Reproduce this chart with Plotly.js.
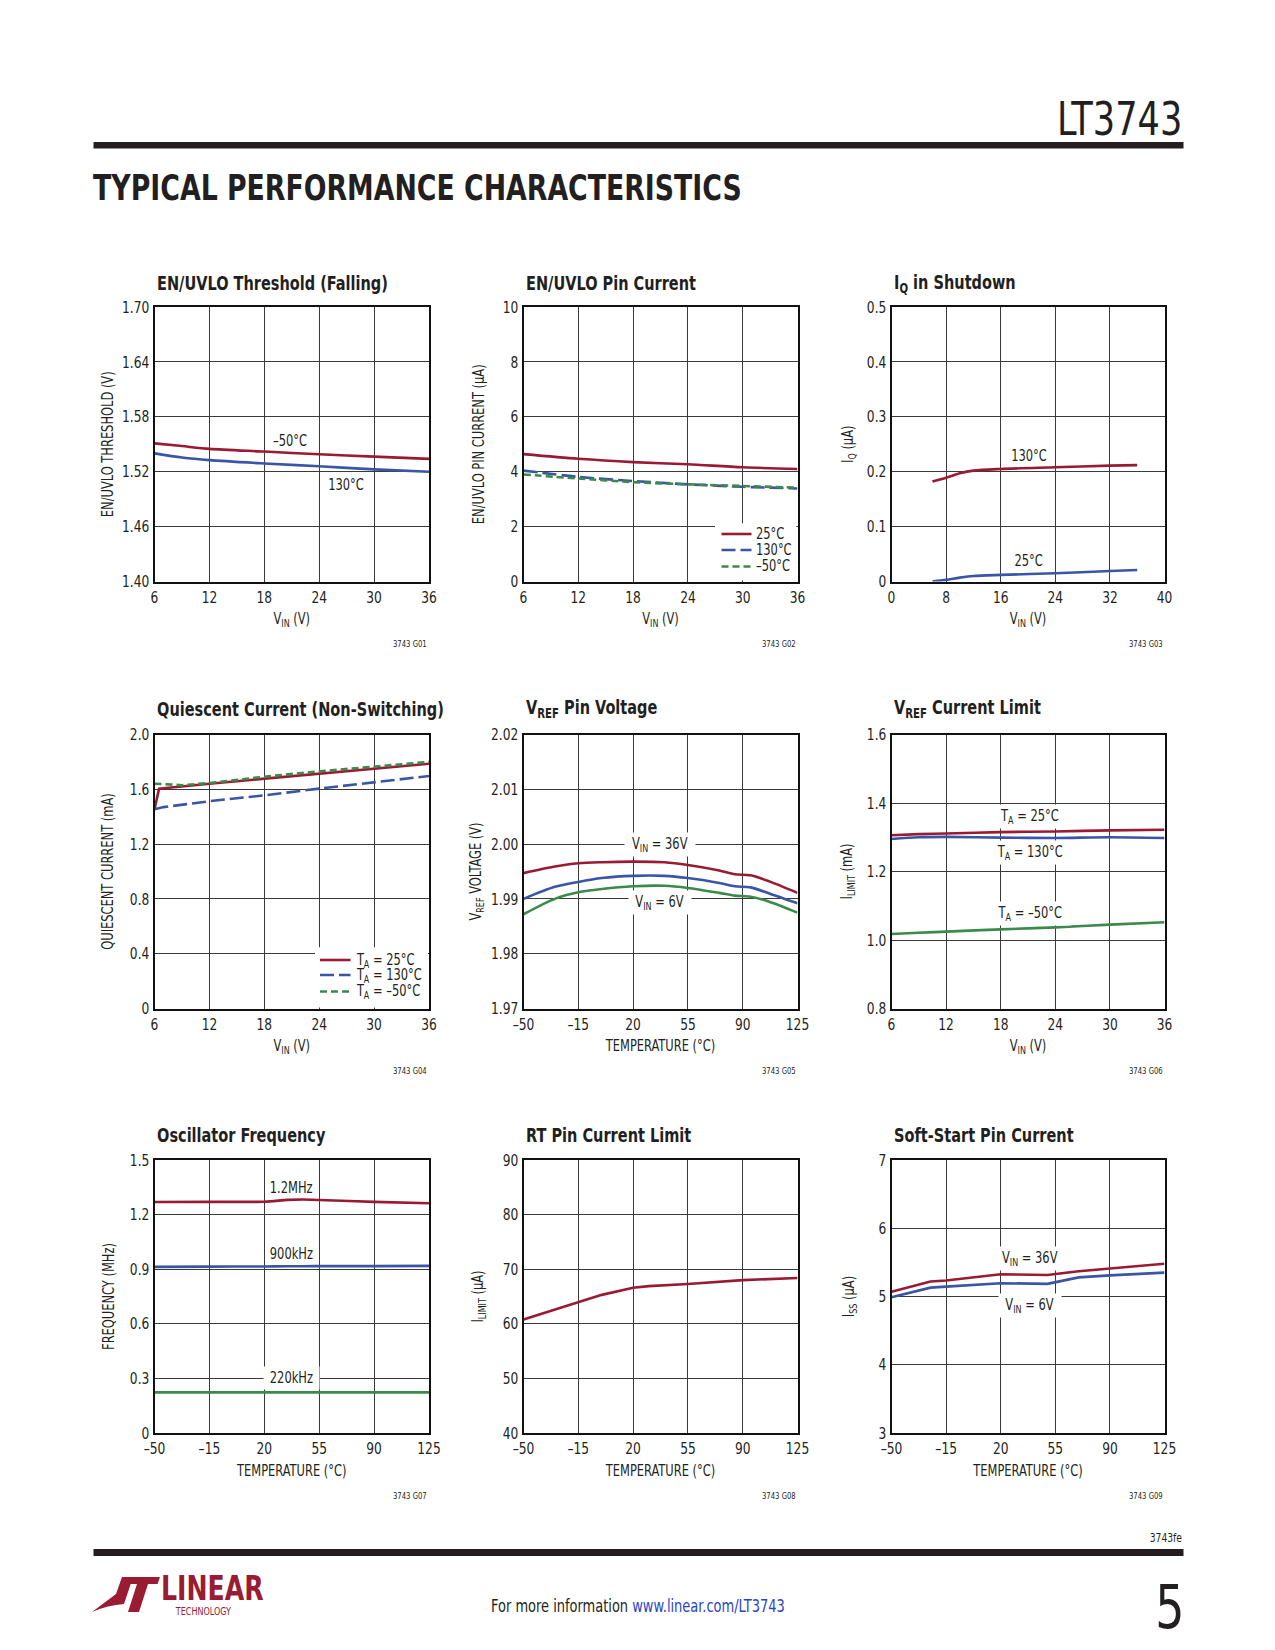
<!DOCTYPE html>
<html><head><meta charset="utf-8">
<script src="https://cdn.plot.ly/plotly-3.0.1.min.js"></script>
<style>html,body{margin:0;padding:0;background:#fff}#page{width:1275px;height:1650px}</style>
</head><body><div id="page"></div>
<script>
// ---------------- DATA ----------------
// tick values / labels
const vinTicks = [6, 12, 18, 24, 30, 36];
const vinLabels = ['6', '12', '18', '24', '30', '36'];
const iqVinTicks = [0, 8, 16, 24, 32, 40];
const iqVinLabels = ['0', '8', '16', '24', '32', '40'];
const tempTicks = [-50, -15, 20, 55, 90, 125];
const tempLabels = ['–50', '–15', '20', '55', '90', '125'];

const g1_yTicks = [1.40, 1.46, 1.52, 1.58, 1.64, 1.70];
const g1_yLabels = ['1.40', '1.46', '1.52', '1.58', '1.64', '1.70'];
const g2_yTicks = [0, 2, 4, 6, 8, 10];
const g2_yLabels = ['0', '2', '4', '6', '8', '10'];
const g3_yTicks = [0, 0.1, 0.2, 0.3, 0.4, 0.5];
const g3_yLabels = ['0', '0.1', '0.2', '0.3', '0.4', '0.5'];
const g4_yTicks = [0, 0.4, 0.8, 1.2, 1.6, 2.0];
const g4_yLabels = ['0', '0.4', '0.8', '1.2', '1.6', '2.0'];
const g5_yTicks = [1.97, 1.98, 1.99, 2.00, 2.01, 2.02];
const g5_yLabels = ['1.97', '1.98', '1.99', '2.00', '2.01', '2.02'];
const g6_yTicks = [0.8, 1.0, 1.2, 1.4, 1.6];
const g6_yLabels = ['0.8', '1.0', '1.2', '1.4', '1.6'];
const g7_yTicks = [0, 0.3, 0.6, 0.9, 1.2, 1.5];
const g7_yLabels = ['0', '0.3', '0.6', '0.9', '1.2', '1.5'];
const g8_yTicks = [40, 50, 60, 70, 80, 90];
const g8_yLabels = ['40', '50', '60', '70', '80', '90'];
const g9_yTicks = [3, 4, 5, 6, 7];
const g9_yLabels = ['3', '4', '5', '6', '7'];

// G01 EN/UVLO Threshold (Falling)
const g1_vin = [6, 9, 12, 18, 24, 30, 36];
const g1_m50 = [1.551, 1.548, 1.545, 1.542, 1.539, 1.5365, 1.534];
const g1_130 = [1.540, 1.5355, 1.5326, 1.529, 1.526, 1.5225, 1.520];

// G02 EN/UVLO Pin Current
const g2_vin = [6, 12, 18, 24, 30, 36];
const g2_25 = [4.64, 4.47, 4.35, 4.27, 4.16, 4.10];
const g2_130 = [4.04, 3.81, 3.66, 3.54, 3.45, 3.39];
const g2_m50 = [3.90, 3.75, 3.62, 3.54, 3.48, 3.42];

// G03 IQ in Shutdown
const g3_vin = [6, 8, 10, 12, 16, 24, 32, 36];
const g3_130 = [0.182, 0.189, 0.197, 0.202, 0.205, 0.208, 0.211, 0.212];
const g3_25 = [0.000, 0.003, 0.007, 0.010, 0.012, 0.015, 0.019, 0.021];

// G04 Quiescent Current (Non-Switching)
const g4_vin25 = [6, 6.5, 12, 18, 24, 30, 36];
const g4_25 = [1.454, 1.605, 1.641, 1.678, 1.714, 1.750, 1.787];
const g4_vin130 = [6, 7, 12, 18, 24, 30, 36];
const g4_130 = [1.454, 1.470, 1.513, 1.556, 1.605, 1.651, 1.697];
const g4_vinm50 = [6, 9, 12, 18, 24, 30, 36];
const g4_m50 = [1.641, 1.630, 1.646, 1.692, 1.731, 1.767, 1.800];

// G05 VREF Pin Voltage
const g5_temp = [-50, -30, -15, 0, 20, 40, 55, 75, 85, 95, 107, 125];
const g5_36 = [1.9947, 1.9959, 1.9965, 1.9967, 1.9968, 1.9967, 1.9962, 1.9952, 1.9945, 1.9943, 1.9932, 1.9911];
const g5_mid = [1.9900, 1.9922, 1.9931, 1.9938, 1.9942, 1.9942, 1.9938, 1.9929, 1.9923, 1.9921, 1.9910, 1.9892];
const g5_6 = [1.9872, 1.9900, 1.9912, 1.9918, 1.9923, 1.9924, 1.9920, 1.9911, 1.9906, 1.9904, 1.9895, 1.9875];

// G06 VREF Current Limit
const g6_vin = [6, 9, 12, 18, 24, 30, 36];
const g6_25 = [1.306, 1.309, 1.311, 1.315, 1.317, 1.320, 1.322];
const g6_130 = [1.295, 1.300, 1.301, 1.299, 1.298, 1.300, 1.298];
const g6_m50 = [1.0175, 1.021, 1.0245, 1.031, 1.037, 1.045, 1.052];

// G07 Oscillator Frequency
const g7_temp = [-50, -15, 20, 35, 45, 55, 90, 125];
const g7_1200k = [1.269, 1.270, 1.271, 1.281, 1.283, 1.280, 1.270, 1.262];
const g7_900k = [0.913, 0.914, 0.915, 0.916, 0.916, 0.917, 0.917, 0.918];
const g7_220k = [0.223, 0.223, 0.223, 0.223, 0.223, 0.223, 0.223, 0.223];

// G08 RT Pin Current Limit
const g8_temp = [-50, -15, 0, 20, 30, 55, 90, 125];
const g8_ilim = [60.8, 64.0, 65.3, 66.6, 66.9, 67.3, 68.0, 68.4];

// G09 Soft-Start Pin Current
const g9_temp = [-50, -25, -15, 20, 50, 70, 90, 125];
const g9_36 = [5.07, 5.22, 5.235, 5.325, 5.315, 5.37, 5.41, 5.48];
const g9_6 = [4.99, 5.13, 5.145, 5.195, 5.185, 5.28, 5.31, 5.35];

// legend entries
const g2_legend = ['25°C', '130°C', '–50°C'];
const g4_legend = ['T<sub>A</sub> = 25°C', 'T<sub>A</sub> = 130°C', 'T<sub>A</sub> = –50°C'];

// ---------------- STYLE / LAYOUT ----------------
const W = 1275, H = 1650;
const FONT = '"Liberation Sans Narrow","DejaVu Sans Condensed","Arial Narrow",Roboto,sans-serif';
const INK = '#231f20';
const RED = '#991b33', BLUE = '#3a55a5', GREEN = '#3b8a4b';
const LOGO = '#9a1c33';
const CONDENSE = 0.85;
const px = x => x / W, py = y => 1 - y / H;

const COLS = [[154.5, 429], [523.5, 797.5], [891.5, 1164.5]];
const ROWS = [[307, 581.5], [734.5, 1008.5], [1160, 1433]];
const TITLE_OFF = [-24, -26, -25.5];

const charts = [
  {title: 'EN/UVLO Threshold (Falling)', xr: [6, 36], xt: vinTicks, xl: vinLabels, yr: [1.40, 1.70], yt: g1_yTicks, yl: g1_yLabels, xtitle: 'V<sub>IN</sub> (V)', ytitle: 'EN/UVLO THRESHOLD (V)', code: '3743 G01', ys: 0},
  {title: 'EN/UVLO Pin Current', xr: [6, 36], xt: vinTicks, xl: vinLabels, yr: [0, 10], yt: g2_yTicks, yl: g2_yLabels, xtitle: 'V<sub>IN</sub> (V)', ytitle: 'EN/UVLO PIN CURRENT (μA)', code: '3743 G02', ys: 12},
  {title: 'I<sub>Q</sub> in Shutdown', xr: [0, 40], xt: iqVinTicks, xl: iqVinLabels, yr: [0, 0.5], yt: g3_yTicks, yl: g3_yLabels, xtitle: 'V<sub>IN</sub> (V)', ytitle: 'I<sub>Q</sub> (μA)', code: '3743 G03', ys: 6},
  {title: 'Quiescent Current (Non-Switching)', xr: [6, 36], xt: vinTicks, xl: vinLabels, yr: [0, 2.0], yt: g4_yTicks, yl: g4_yLabels, xtitle: 'V<sub>IN</sub> (V)', ytitle: 'QUIESCENT CURRENT (mA)', code: '3743 G04', ys: 9},
  {title: 'V<sub>REF</sub> Pin Voltage', xr: [-50, 125], xt: tempTicks, xl: tempLabels, yr: [1.97, 2.02], yt: g5_yTicks, yl: g5_yLabels, xtitle: 'TEMPERATURE (°C)', ytitle: 'V<sub>REF</sub> VOLTAGE (V)', code: '3743 G05', ys: 0},
  {title: 'V<sub>REF</sub> Current Limit', xr: [6, 36], xt: vinTicks, xl: vinLabels, yr: [0.8, 1.6], yt: g6_yTicks, yl: g6_yLabels, xtitle: 'V<sub>IN</sub> (V)', ytitle: 'I<sub>LIMIT</sub> (mA)', code: '3743 G06', ys: 7.5},
  {title: 'Oscillator Frequency', xr: [-50, 125], xt: tempTicks, xl: tempLabels, yr: [0, 1.5], yt: g7_yTicks, yl: g7_yLabels, xtitle: 'TEMPERATURE (°C)', ytitle: 'FREQUENCY (MHz)', code: '3743 G07', ys: 8},
  {title: 'RT Pin Current Limit', xr: [-50, 125], xt: tempTicks, xl: tempLabels, yr: [40, 90], yt: g8_yTicks, yl: g8_yLabels, xtitle: 'TEMPERATURE (°C)', ytitle: 'I<sub>LIMIT</sub> (μA)', code: '3743 G08', ys: 13},
  {title: 'Soft-Start Pin Current', xr: [-50, 125], xt: tempTicks, xl: tempLabels, yr: [3, 7], yt: g9_yTicks, yl: g9_yLabels, xtitle: 'TEMPERATURE (°C)', ytitle: 'I<sub>SS</sub> (μA)', code: '3743 G09', ys: 19}
];

const ax = i => (i === 0 ? '' : String(i + 1));
const layout = {
  width: W, height: H, margin: {l: 0, r: 0, t: 0, b: 0},
  paper_bgcolor: '#fff', plot_bgcolor: '#fff',
  font: {family: FONT, color: INK, size: 14},
  showlegend: false,
  annotations: [], shapes: []
};
const ANN = layout.annotations, SH = layout.shapes;

charts.forEach((c, i) => {
  const col = COLS[i % 3], r = Math.floor(i / 3), row = ROWS[r];
  const axisCommon = {
    showgrid: true, gridcolor: '#3a3a3a', gridwidth: 1,
    showline: true, linecolor: '#111', linewidth: 2, mirror: true,
    ticks: '', zeroline: false, fixedrange: true,
    tickfont: {family: FONT, size: 16, color: INK}
  };
  layout['xaxis' + ax(i)] = Object.assign({}, axisCommon, {
    domain: [px(col[0]), px(col[1])], range: c.xr, tickmode: 'array', tickvals: c.xt, ticktext: c.xl,
    anchor: 'y' + ax(i),
    title: {text: c.xtitle, font: {family: FONT, size: 15, color: INK}, standoff: 8}
  });
  layout['yaxis' + ax(i)] = Object.assign({}, axisCommon, {
    domain: [py(row[1]), py(row[0])], range: c.yr, tickmode: 'array', tickvals: c.yt, ticktext: c.yl,
    anchor: 'x' + ax(i),
    title: {text: c.ytitle, font: {family: FONT, size: 15, color: INK}, standoff: c.ys}
  });
  // chart title
  ANN.push({text: c.title, xref: 'paper', yref: 'paper', x: px(col[0]), y: py(row[0] + TITLE_OFF[r]),
    xanchor: 'left', yanchor: 'middle', showarrow: false, font: {family: FONT, size: 19, color: INK, weight: 'bold'}});
  // figure code
  ANN.push({text: c.code, xref: 'paper', yref: 'paper', x: px(col[1]), y: py(row[1] + 62.5),
    xanchor: 'right', yanchor: 'middle', showarrow: false, font: {family: FONT, size: 9, color: INK}});
});

const traces = [];
function line(i, x, y, color, dash, shape, name) {
  traces.push({
    type: 'scatter', mode: 'lines', x: x, y: y, name: name,
    xaxis: 'x' + ax(i), yaxis: 'y' + ax(i),
    line: {color: color, width: 2.6, dash: dash || 'solid', shape: shape || 'spline', smoothing: 0.8},
    hoverinfo: 'skip'
  });
}
const LDASH = '14px,5px', SDASH = '7px,4px';
// G01
line(0, g1_vin, g1_m50, RED, null, 'spline', '–50°C');
line(0, g1_vin, g1_130, BLUE, null, 'spline', '130°C');
// G02
line(1, g2_vin, g2_25, RED, null, 'spline', g2_legend[0]);
line(1, g2_vin, g2_130, BLUE, LDASH, 'spline', g2_legend[1]);
line(1, g2_vin, g2_m50, GREEN, SDASH, 'spline', g2_legend[2]);
// G03
line(2, g3_vin, g3_130, RED, null, 'spline', '130°C');
line(2, g3_vin, g3_25, BLUE, null, 'spline', '25°C');
// G04
line(3, g4_vin25, g4_25, RED, null, 'linear', g4_legend[0]);
line(3, g4_vin130, g4_130, BLUE, LDASH, 'linear', g4_legend[1]);
line(3, g4_vinm50, g4_m50, GREEN, SDASH, 'linear', g4_legend[2]);
// G05
line(4, g5_temp, g5_36, RED, null, 'spline', 'V<sub>IN</sub> = 36V');
line(4, g5_temp, g5_mid, BLUE, null, 'spline', 'V<sub>IN</sub> (intermediate)');
line(4, g5_temp, g5_6, GREEN, null, 'spline', 'V<sub>IN</sub> = 6V');
// G06
line(5, g6_vin, g6_25, RED, null, 'spline', 'T<sub>A</sub> = 25°C');
line(5, g6_vin, g6_130, BLUE, null, 'spline', 'T<sub>A</sub> = 130°C');
line(5, g6_vin, g6_m50, GREEN, null, 'spline', 'T<sub>A</sub> = –50°C');
// G07
line(6, g7_temp, g7_1200k, RED, null, 'spline', '1.2MHz');
line(6, g7_temp, g7_900k, BLUE, null, 'spline', '900kHz');
line(6, g7_temp, g7_220k, GREEN, null, 'spline', '220kHz');
// G08
line(7, g8_temp, g8_ilim, RED, null, 'linear', 'I<sub>LIMIT</sub>');
// G09
line(8, g9_temp, g9_36, RED, null, 'linear', 'V<sub>IN</sub> = 36V');
line(8, g9_temp, g9_6, BLUE, null, 'linear', 'V<sub>IN</sub> = 6V');

// in-plot labels
function lab(i, text, x, y, opt) {
  ANN.push(Object.assign({text: text, xref: 'x' + ax(i), yref: 'y' + ax(i), x: x, y: y,
    showarrow: false, xanchor: 'center', yanchor: 'middle', font: {family: FONT, size: 15, color: INK}}, opt || {}));
}
const WB = {bgcolor: '#fff', borderpad: 2};
lab(0, '–50°C', 20.8, 1.5536);
lab(0, '130°C', 26.9, 1.5055);
lab(2, '130°C', 20.1, 0.2286);
lab(2, '25°C', 20.1, 0.0373);
lab(4, 'V<sub>IN</sub> = 36V', 37.2, 2.000, WB);
lab(4, 'V<sub>IN</sub> = 6V', 37.2, 1.9893, WB);
lab(5, 'T<sub>A</sub> = 25°C', 21.2, 1.360, WB);
lab(5, 'T<sub>A</sub> = 130°C', 21.2, 1.255, WB);
lab(5, 'T<sub>A</sub> = –50°C', 21.2, 1.076, WB);
lab(6, '1.2MHz', 37.3, 1.346);
lab(6, '900kHz', 37.3, 0.9835);
lab(6, '220kHz', 37.3, 0.300, WB);
lab(8, 'V<sub>IN</sub> = 36V', 38.8, 5.564, WB);
lab(8, 'V<sub>IN</sub> = 6V', 38.8, 4.875, WB);

// legend boxes (drawn as keys inside plots)
function legendBox(box, lineX, textX, ys, labels, styles) {
  SH.push({type: 'rect', xref: 'paper', yref: 'paper', x0: px(box[0]), x1: px(box[1]), y0: py(box[3]), y1: py(box[2]),
    fillcolor: '#fff', line: {width: 0}, layer: 'above'});
  labels.forEach((t, k) => {
    SH.push({type: 'line', xref: 'paper', yref: 'paper', x0: px(lineX[0]), x1: px(lineX[1]), y0: py(ys[k]), y1: py(ys[k]),
      line: {color: styles[k][0], width: 2.6, dash: styles[k][1]}, layer: 'above'});
    ANN.push({text: t, xref: 'paper', yref: 'paper', x: px(textX), y: py(ys[k]), xanchor: 'left', yanchor: 'middle',
      showarrow: false, font: {family: FONT, size: 15, color: INK}});
  });
}
const legStyles = [[RED, 'solid'], [BLUE, LDASH], [GREEN, SDASH]];
legendBox([715, 796.4, 523.3, 580.4], [721.5, 751.5], 754, [534, 550, 566.5], g2_legend, legStyles);
legendBox([315, 428, 947.3, 1007.4], [320, 350.5], 354, [960, 975, 991.5], g4_legend, legStyles);

// page header / footer
function pageText(text, x, y, size, opt) {
  ANN.push(Object.assign({text: text, xref: 'paper', yref: 'paper', x: px(x), y: py(y), showarrow: false,
    xanchor: 'left', yanchor: 'middle', font: {family: FONT, size: size, color: INK}}, opt || {}));
}
pageText('LT3743', 1184, 119, 46, {xanchor: 'right'});
SH.push({type: 'rect', xref: 'paper', yref: 'paper', x0: px(93.5), x1: px(1183.5), y0: py(142), y1: py(148.5), fillcolor: INK, line: {width: 0}});
pageText('TYPICAL PERFORMANCE CHARACTERISTICS', 91, 188, 35, {font: {family: FONT, size: 35, color: INK, weight: 'bold'}});

SH.push({type: 'rect', xref: 'paper', yref: 'paper', x0: px(93.5), x1: px(1183.5), y0: py(1549), y1: py(1556), fillcolor: INK, line: {width: 0}});
pageText('3743fe', 1183.5, 1538, 12, {xanchor: 'right'});
pageText('5', 1186, 1606.5, 60, {xanchor: 'right'});
pageText('For more information <span style="color:#2b44c4">www.linear.com/LT3743</span>', 638, 1606, 17, {xanchor: 'center'});

// logo (shifted down 3px)
const LY = 3;
function P(pts) { return 'M' + pts.map(p => px(p[0]) + ',' + py(p[1] + LY)).join(' L') + ' Z'; }
SH.push({type: 'path', xref: 'paper', yref: 'paper', fillcolor: LOGO, line: {width: 0},
  path: 'M' + px(92) + ',' + py(1609 + LY) + ' Q' + px(108) + ',' + py(1597 + LY) + ' ' + px(116) + ',' + py(1591 + LY) +
        ' L' + px(122) + ',' + py(1574 + LY) + ' L' + px(133) + ',' + py(1574 + LY) + ' L' + px(124) + ',' + py(1601 + LY) +
        ' Q' + px(108) + ',' + py(1602 + LY) + ' ' + px(92) + ',' + py(1609 + LY) + ' Z'});
SH.push({type: 'path', xref: 'paper', yref: 'paper', fillcolor: LOGO, line: {width: 0},
  path: P([[131, 1574], [160, 1574], [157.5, 1581], [148, 1581], [139, 1609], [128, 1609], [137, 1581], [129, 1581]])});
pageText('LINEAR', 159, 1585 + LY, 33, {font: {family: FONT, size: 33, color: LOGO, weight: 'bold'}});
pageText('TECHNOLOGY', 173, 1607.5 + LY, 10.5, {font: {family: FONT, size: 10.5, color: LOGO}});

// narrow every text horizontally around its own anchor (the reference uses a condensed face)
function squeeze(t, pivot, s) {
  const y = parseFloat(t.getAttribute('y')) || 0;
  const old = t.getAttribute('transform') || '';
  t.setAttribute('transform', (old + ' translate(' + pivot + ',' + y + ') scale(' + s + ',1) translate(' + (-pivot) + ',' + (-y) + ')').trim());
}
function condense(gd, s) {
  const done = new Set();
  gd.querySelectorAll('g.annotation').forEach(g => {
    const k = +g.getAttribute('data-index');
    const a = (gd.layout.annotations || [])[k];
    const t = g.querySelector('text');
    if (!t || !a) return;
    done.add(t);
    const bb = t.getBBox();
    let pivot = bb.x + bb.width / 2;
    if (a.xanchor === 'left') pivot = bb.x;
    else if (a.xanchor === 'right') pivot = bb.x + bb.width;
    squeeze(t, pivot, s);
  });
  gd.querySelectorAll('svg text').forEach(t => {
    if (done.has(t)) return;
    squeeze(t, parseFloat(t.getAttribute('x')) || 0, s);
  });
}
Plotly.newPlot('page', traces, layout, {staticPlot: true, displayModeBar: false}).then(gd => condense(gd, CONDENSE));
</script>
</body></html>
